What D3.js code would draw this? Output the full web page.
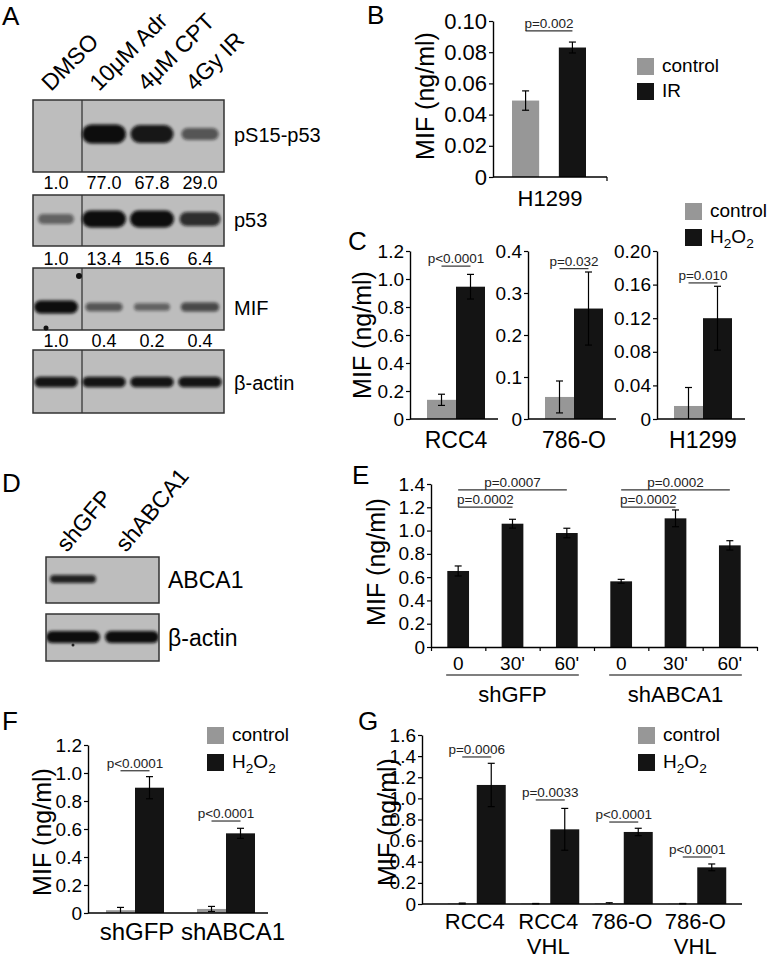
<!DOCTYPE html>
<html>
<head>
<meta charset="utf-8">
<script src="https://cdn.jsdelivr.net/npm/d3@7"></script>
<style>
  body { margin: 0; background: #fff; }
</style>
</head>
<body>
<div id="figure"></div>
<script>
// ---------- data ----------
// A: western blot, lanes / rows / relative band strength / quantification
const blotALanes = ["DMSO", "10μM Adr", "4μM CPT", "4Gy IR"];
const blotARows = ["pS15-p53", "p53", "MIF", "β-actin"];
const blotABands = [
  [0, 1, 0.92, 0.45],
  [0.35, 1, 1, 0.75],
  [1, 0.45, 0.35, 0.55],
  [0.95, 0.95, 0.95, 0.95]
];
const blotAQuant = [
  ["1.0", "77.0", "67.8", "29.0"],
  ["1.0", "13.4", "15.6", "6.4"],
  ["1.0", "0.4", "0.2", "0.4"]
];

// B
const bSeries = ["control", "IR"];
const bCategory = "H1299";
const bValues = [0.049, 0.083];
const bErrors = [0.0062, 0.0035];
const bTicks = [0, 0.02, 0.04, 0.06, 0.08, 0.10];
const bPval = "p=0.002";
const bBracket = 0.0937;

// C
const cSeries = ["control", "H2O2"];
const cLines = ["RCC4", "786-O", "H1299"];
const cControl = [0.137, 0.0525, 0.0155];
const cControlErr = [0.04, 0.038, 0.022];
const cH2O2 = [0.945, 0.263, 0.12];
const cH2O2Err = [0.088, 0.087, 0.038];
const cMax = [1.2, 0.4, 0.2];
const cTicks = [
  [0, 0.2, 0.4, 0.6, 0.8, 1.0, 1.2],
  [0, 0.1, 0.2, 0.3, 0.4],
  [0, 0.04, 0.08, 0.12, 0.16, 0.20]
];
const cDecimals = [1, 1, 2];
const cPvals = ["p<0.0001", "p=0.032", "p=0.010"];
const cBracket = [1.092, 0.358, 0.162];

// D: western blot
const blotDLanes = ["shGFP", "shABCA1"];
const blotDRows = ["ABCA1", "β-actin"];
const blotDBands = [[0.85, 0], [1, 1]];

// E
const eGroups = ["shGFP", "shABCA1"];
const eTimes = ["0", "30'", "60'"];
const eValues = [0.653, 1.059, 0.979, 0.564, 1.105, 0.873];
const eErrors = [0.043, 0.038, 0.041, 0.017, 0.072, 0.04];
const eTicks = [0, 0.2, 0.4, 0.6, 0.8, 1.0, 1.2, 1.4];
const ePvalsLong = ["p=0.0007", "p=0.0002"];
const ePvalsShort = ["p=0.0002", "p=0.0002"];
const eBracketLong = 1.349;
const eBracketShort = 1.202;

// F
const fSeries = ["control", "H2O2"];
const fGroups = ["shGFP", "shABCA1"];
const fControl = [0.02, 0.029];
const fControlErr = [0.02, 0.018];
const fH2O2 = [0.895, 0.569];
const fH2O2Err = [0.079, 0.036];
const fTicks = [0, 0.2, 0.4, 0.6, 0.8, 1.0, 1.2];
const fPvals = ["p<0.0001", "p<0.0001"];
const fBracket = [1.016, 0.657];

// G
const gSeries = ["control", "H2O2"];
const gGroups = [["RCC4"], ["RCC4", "VHL"], ["786-O"], ["786-O", "VHL"]];
const gControl = [0.005, 0.003, 0.006, 0.003];
const gControlErr = [0.004, 0.002, 0.006, 0.002];
const gH2O2 = [1.127, 0.707, 0.682, 0.347];
const gH2O2Err = [0.205, 0.198, 0.035, 0.032];
const gTicks = [0, 0.2, 0.4, 0.6, 0.8, 1.0, 1.2, 1.4, 1.6];
const gPvals = ["p=0.0006", "p=0.0033", "p<0.0001", "p<0.0001"];
const gBracket = [1.392, 0.985, 0.776, 0.445];

// ---------- setup ----------
const FONT = "'Liberation Sans', Arial, Helvetica, sans-serif";
const GREY = "#979797";
const BLACK = "#141414";
const seriesColor = s => s === "control" ? GREY : BLACK;

const svg = d3.select("#figure")
    .append("svg")
    .attr("width", 768)
    .attr("height", 960)
    .style("font-family", FONT);

const defs = svg.append("defs");
defs.append("filter")
    .attr("id", "blur")
    .attr("x", "-30%").attr("y", "-150%")
    .attr("width", "160%").attr("height", "400%")
    .append("feGaussianBlur")
    .attr("stdDeviation", 1.8);

// ---------- helpers ----------
function panelLetter(letter, x, y) {
    svg.append("text")
        .attr("x", x).attr("y", y)
        .style("font-size", "26px")
        .text(letter);
}

// writes "H2O2" as H₂O₂ with subscripts
function chemText(sel, label, fs) {
    if (label !== "H2O2") { sel.text(label); return; }
    sel.append("tspan").text("H");
    sel.append("tspan").attr("dy", 5).style("font-size", (fs * 0.72) + "px").text("2");
    sel.append("tspan").attr("dy", -5).text("O");
    sel.append("tspan").attr("dy", 5).style("font-size", (fs * 0.72) + "px").text("2");
}

function yAxis(x, scale, ticks, dec, fs) {
    const ax = svg.append("g")
        .attr("transform", `translate(${x},0)`)
        .call(d3.axisLeft(scale)
            .tickValues(ticks)
            .tickFormat(d => d === 0 ? "0" : d3.format(`.${dec}f`)(d))
            .tickSize(4)
            .tickSizeOuter(0)
            .tickPadding(2))
        .attr("font-family", FONT);
    ax.select(".domain").attr("stroke", "#000").attr("stroke-width", 1.4);
    ax.selectAll(".tick line").attr("stroke", "#000").attr("stroke-width", 1.2);
    ax.selectAll(".tick text").attr("fill", "#000").style("font-size", fs + "px");
    return ax;
}

function xLine(x1, x2, y) {
    svg.append("line")
        .attr("x1", x1).attr("x2", x2)
        .attr("y1", y).attr("y2", y)
        .attr("stroke", "#000")
        .attr("stroke-width", 1.4);
}

function yLabel(x, y) {
    svg.append("text")
        .attr("transform", `translate(${x},${y}) rotate(-90)`)
        .attr("text-anchor", "middle")
        .style("font-size", "25px")
        .text("MIF (ng/ml)");
}

function errorBar(cx, y, v, e) {
    const top = y(v + e);
    const lo = Math.max(0, v - e);
    const bot = y(lo);
    const g = svg.append("g").attr("stroke", "#000").attr("stroke-width", 1.2);
    g.append("line").attr("x1", cx).attr("x2", cx).attr("y1", top).attr("y2", bot);
    g.append("line").attr("x1", cx - 3.5).attr("x2", cx + 3.5).attr("y1", top).attr("y2", top);
    if (lo > 0) {
        g.append("line").attr("x1", cx - 3.5).attr("x2", cx + 3.5).attr("y1", bot).attr("y2", bot);
    }
}

function pBracket(xa, xb, yPix, txt) {
    svg.append("line")
        .attr("x1", xa).attr("x2", xb)
        .attr("y1", yPix).attr("y2", yPix)
        .attr("stroke", "#333")
        .attr("stroke-width", 1.2);
    svg.append("text")
        .attr("x", (xa + xb) / 2)
        .attr("y", yPix - 3)
        .attr("text-anchor", "middle")
        .style("font-size", "13.5px")
        .attr("fill", "#222")
        .text(txt);
}

function legend(x, y, series, gap) {
    series.forEach((s, i) => {
        svg.append("rect")
            .attr("x", x).attr("y", y + i * gap)
            .attr("width", 17).attr("height", 17)
            .attr("fill", seriesColor(s));
        const t = svg.append("text")
            .attr("x", x + 25)
            .attr("y", y + i * gap + 14)
            .style("font-size", "19px");
        chemText(t, s, 19);
    });
}

function bar(x, w, y, v, color) {
    svg.append("rect")
        .attr("x", x).attr("width", w)
        .attr("y", y(v)).attr("height", y(0) - y(v))
        .attr("fill", color);
}

// blot: frame, bands drawn through a lane scale
function blot(opts) {
    const { lane, lanes, x0, x1, y0, y1, bandY, bandH, bandW, strengths, label, labelX, labelY, labelSize, divider } = opts;
    const clipId = "clip" + Math.round(y0);
    defs.append("clipPath").attr("id", clipId)
        .append("rect").attr("x", x0).attr("y", y0).attr("width", x1 - x0).attr("height", y1 - y0);
    svg.append("rect")
        .attr("x", x0).attr("y", y0)
        .attr("width", x1 - x0).attr("height", y1 - y0)
        .attr("fill", "#bdbdbd");
    const bands = svg.append("g").attr("clip-path", `url(#${clipId})`);
    bands.selectAll("rect")
        .data(lanes.map((l, i) => ({ l, s: strengths[i] })).filter(d => d.s > 0))
        .join("rect")
        .attr("x", d => lane(d.l) - bandW * (0.72 + 0.28 * d.s) / 2)
        .attr("width", d => bandW * (0.72 + 0.28 * d.s))
        .attr("y", d => bandY - bandH * (0.35 + 0.65 * d.s) / 2)
        .attr("height", d => bandH * (0.35 + 0.65 * d.s))
        .attr("rx", d => bandH * (0.35 + 0.65 * d.s) / 2)
        .attr("fill", "#0a0a0a")
        .attr("opacity", d => 0.25 + 0.75 * d.s)
        .attr("filter", "url(#blur)");
    if (divider) {
        svg.append("line")
            .attr("x1", divider).attr("x2", divider)
            .attr("y1", y0).attr("y2", y1)
            .attr("stroke", "#111").attr("stroke-width", 1);
    }
    svg.append("rect")
        .attr("x", x0).attr("y", y0)
        .attr("width", x1 - x0).attr("height", y1 - y0)
        .attr("fill", "none")
        .attr("stroke", "#333").attr("stroke-width", 1.5);
    svg.append("text")
        .attr("x", labelX).attr("y", labelY)
        .style("font-size", labelSize + "px")
        .text(label);
}

// ---------- Panel A ----------
panelLetter("A", 2, 25);
const laneA = d3.scalePoint().domain(blotALanes).range([56, 200]);
blotALanes.forEach(l => {
    svg.append("text")
        .attr("transform", `translate(${laneA(l) - 5},92) rotate(-45)`)
        .style("font-size", "23px")
        .text(l);
});
const blotAFrames = [
    { y0: 100, y1: 172, bandY: 134, bandH: 19, labelY: 142 },
    { y0: 195, y1: 246, bandY: 219, bandH: 17, labelY: 227 },
    { y0: 268, y1: 330, bandY: 307, bandH: 13, labelY: 315 },
    { y0: 350, y1: 413, bandY: 382, bandH: 11, labelY: 390 }
];
const quantY = [189, 265, 347];
blotARows.forEach((row, r) => {
    const f = blotAFrames[r];
    blot({
        lane: laneA, lanes: blotALanes, x0: 33, x1: 224, y0: f.y0, y1: f.y1,
        bandY: f.bandY, bandH: f.bandH, bandW: 44, strengths: blotABands[r],
        label: row, labelX: 234, labelY: f.labelY, labelSize: 20, divider: 82
    });
    if (r < blotAQuant.length) {
        blotALanes.forEach((l, i) => {
            svg.append("text")
                .attr("x", laneA(l))
                .attr("y", quantY[r])
                .attr("text-anchor", "middle")
                .style("font-size", "18px")
                .text(blotAQuant[r][i]);
        });
    }
});
// specks on the MIF blot
svg.append("circle").attr("cx", 79).attr("cy", 276).attr("r", 3).attr("fill", "#111");
svg.append("circle").attr("cx", 46).attr("cy", 328).attr("r", 2.5).attr("fill", "#111");

// ---------- Panel B ----------
panelLetter("B", 367, 24);
const yB = d3.scaleLinear().domain([0, 0.1]).range([177, 21]);
const xB = d3.scaleBand().domain(bSeries).range([512, 586]).paddingInner(0.42);
bSeries.forEach((s, i) => {
    bar(xB(s), xB.bandwidth(), yB, bValues[i], seriesColor(s));
    errorBar(xB(s) + xB.bandwidth() / 2, yB, bValues[i], bErrors[i]);
});
yAxis(493, yB, bTicks, 2, 22);
xLine(493, 607, 177);
svg.append("line").attr("x1", 607).attr("x2", 607).attr("y1", 177).attr("y2", 181)
    .attr("stroke", "#000").attr("stroke-width", 1.2);
svg.append("text")
    .attr("x", 550).attr("y", 206)
    .attr("text-anchor", "middle")
    .style("font-size", "22px")
    .text(bCategory);
pBracket(xB(bSeries[0]) + xB.bandwidth() / 2, xB(bSeries[1]) + xB.bandwidth() / 2, yB(bBracket), bPval);
yLabel(434, 96);
legend(637, 58, bSeries, 25);

// ---------- Panel C ----------
panelLetter("C", 348, 250);
const cAxisX = [410, 528, 657];
cLines.forEach((line, i) => {
    const ax = cAxisX[i];
    const y = d3.scaleLinear().domain([0, cMax[i]]).range([419, 251]);
    const x = d3.scaleBand().domain(cSeries).range([ax + 17, ax + 75]);
    const vals = [cControl[i], cH2O2[i]];
    const errs = [cControlErr[i], cH2O2Err[i]];
    cSeries.forEach((s, j) => {
        bar(x(s), x.bandwidth(), y, vals[j], seriesColor(s));
        errorBar(x(s) + x.bandwidth() / 2, y, vals[j], errs[j]);
    });
    yAxis(ax, y, cTicks[i], cDecimals[i], 19);
    xLine(ax, ax + 88, 419);
    pBracket(x(cSeries[0]) + x.bandwidth() / 2, x(cSeries[1]) + x.bandwidth() / 2, y(cBracket[i]), cPvals[i]);
    svg.append("text")
        .attr("x", ax + 46).attr("y", 448)
        .attr("text-anchor", "middle")
        .style("font-size", "23px")
        .text(line);
});
yLabel(371, 335);
legend(685, 203, cSeries, 26);

// ---------- Panel D ----------
panelLetter("D", 2, 492);
const laneD = d3.scalePoint().domain(blotDLanes).range([73, 132]);
blotDLanes.forEach(l => {
    svg.append("text")
        .attr("transform", `translate(${laneD(l) - 6},553) rotate(-50)`)
        .style("font-size", "23px")
        .text(l);
});
const blotDFrames = [
    { y0: 557, y1: 603, bandY: 579, bandH: 9, bandW: 48, labelY: 588 },
    { y0: 614, y1: 661, bandY: 637, bandH: 12, bandW: 54, labelY: 646 }
];
blotDRows.forEach((row, r) => {
    const f = blotDFrames[r];
    blot({
        lane: laneD, lanes: blotDLanes, x0: 46, x1: 159, y0: f.y0, y1: f.y1,
        bandY: f.bandY, bandH: f.bandH, bandW: f.bandW, strengths: blotDBands[r],
        label: row, labelX: 168, labelY: f.labelY, labelSize: 23, divider: null
    });
});
svg.append("circle").attr("cx", 73).attr("cy", 645).attr("r", 1.5).attr("fill", "#222");

// ---------- Panel E ----------
panelLetter("E", 352, 484);
const eCats = eGroups.flatMap(g => eTimes.map(t => g + "|" + t));
const yE = d3.scaleLinear().domain([0, 1.4]).range([647, 484]);
const xE = d3.scaleBand().domain(eCats).range([431, 757]).paddingInner(0.6).paddingOuter(0.3);
const cxE = c => xE(c) + xE.bandwidth() / 2;
eCats.forEach((c, i) => {
    bar(xE(c), xE.bandwidth(), yE, eValues[i], BLACK);
    errorBar(cxE(c), yE, eValues[i], eErrors[i]);
});
yAxis(431, yE, eTicks, 1, 19);
const xEedges = d3.scaleLinear().domain([0, eCats.length]).range([431, 757]);
const axE = svg.append("g")
    .attr("transform", "translate(0,647)")
    .call(d3.axisBottom(xEedges).ticks(eCats.length).tickFormat("").tickSize(4).tickSizeOuter(0));
axE.select(".domain").attr("stroke", "#000").attr("stroke-width", 1.4);
axE.selectAll(".tick line").attr("stroke", "#000").attr("stroke-width", 1.2);
eCats.forEach(c => {
    svg.append("text")
        .attr("x", cxE(c)).attr("y", 670)
        .attr("text-anchor", "middle")
        .style("font-size", "19px")
        .text(c.split("|")[1]);
});
eGroups.forEach((g, gi) => {
    const first = cxE(g + "|" + eTimes[0]);
    const last = cxE(g + "|" + eTimes[eTimes.length - 1]);
    const mid = cxE(g + "|" + eTimes[1]);
    svg.append("line")
        .attr("x1", first - 12).attr("x2", last + 12)
        .attr("y1", 675).attr("y2", 675)
        .attr("stroke", "#000").attr("stroke-width", 1.2);
    svg.append("text")
        .attr("x", mid).attr("y", 702)
        .attr("text-anchor", "middle")
        .style("font-size", "22px")
        .text(g);
    pBracket(first, last, yE(eBracketLong), ePvalsLong[gi]);
    pBracket(first, mid, yE(eBracketShort), ePvalsShort[gi]);
});
yLabel(385, 562);

// ---------- Panel F ----------
panelLetter("F", 2, 730);
const yF = d3.scaleLinear().domain([0, 1.2]).range([913, 745]);
const xF = d3.scaleBand().domain(fGroups).range([89.5, 271.5]);
fGroups.forEach((g, i) => {
    const c = xF(g) + xF.bandwidth() / 2;
    const xs = d3.scaleBand().domain(fSeries).range([c - 29, c + 29]);
    const vals = [fControl[i], fH2O2[i]];
    const errs = [fControlErr[i], fH2O2Err[i]];
    fSeries.forEach((s, j) => {
        bar(xs(s), xs.bandwidth(), yF, vals[j], seriesColor(s));
        errorBar(xs(s) + xs.bandwidth() / 2, yF, vals[j], errs[j]);
    });
    pBracket(c - 14.5, c + 14.5, yF(fBracket[i]), fPvals[i]);
    svg.append("text")
        .attr("x", c + 2 + 5 * i).attr("y", 940)
        .attr("text-anchor", "middle")
        .style("font-size", "24px")
        .text(g);
});
yAxis(88, yF, fTicks, 1, 19);
xLine(88, 268, 913);
yLabel(51, 832);
legend(207, 727, fSeries, 27);

// ---------- Panel G ----------
panelLetter("G", 358, 730);
const yG = d3.scaleLinear().domain([0, 1.6]).range([904, 735]);
const gKeys = gGroups.map(g => g.join(" "));
const xG = d3.scaleBand().domain(gKeys).range([440, 734]);
gKeys.forEach((k, i) => {
    const c = xG(k) + xG.bandwidth() / 2;
    const xs = d3.scaleBand().domain(gSeries).range([c - 29, c + 29]);
    const vals = [gControl[i], gH2O2[i]];
    const errs = [gControlErr[i], gH2O2Err[i]];
    gSeries.forEach((s, j) => {
        bar(xs(s), xs.bandwidth(), yG, vals[j], seriesColor(s));
        errorBar(xs(s) + xs.bandwidth() / 2, yG, vals[j], errs[j]);
    });
    pBracket(c - 14.5, c + 14.5, yG(gBracket[i]), gPvals[i]);
    gGroups[i].forEach((lineTxt, li) => {
        svg.append("text")
            .attr("x", c - 2).attr("y", 929 + li * 25)
            .attr("text-anchor", "middle")
            .style("font-size", "22px")
            .text(lineTxt);
    });
});
yAxis(422, yG, gTicks, 1, 19);
xLine(422, 742, 904);
yLabel(396, 822);
legend(638, 727, gSeries, 27);
</script>
</body>
</html>
